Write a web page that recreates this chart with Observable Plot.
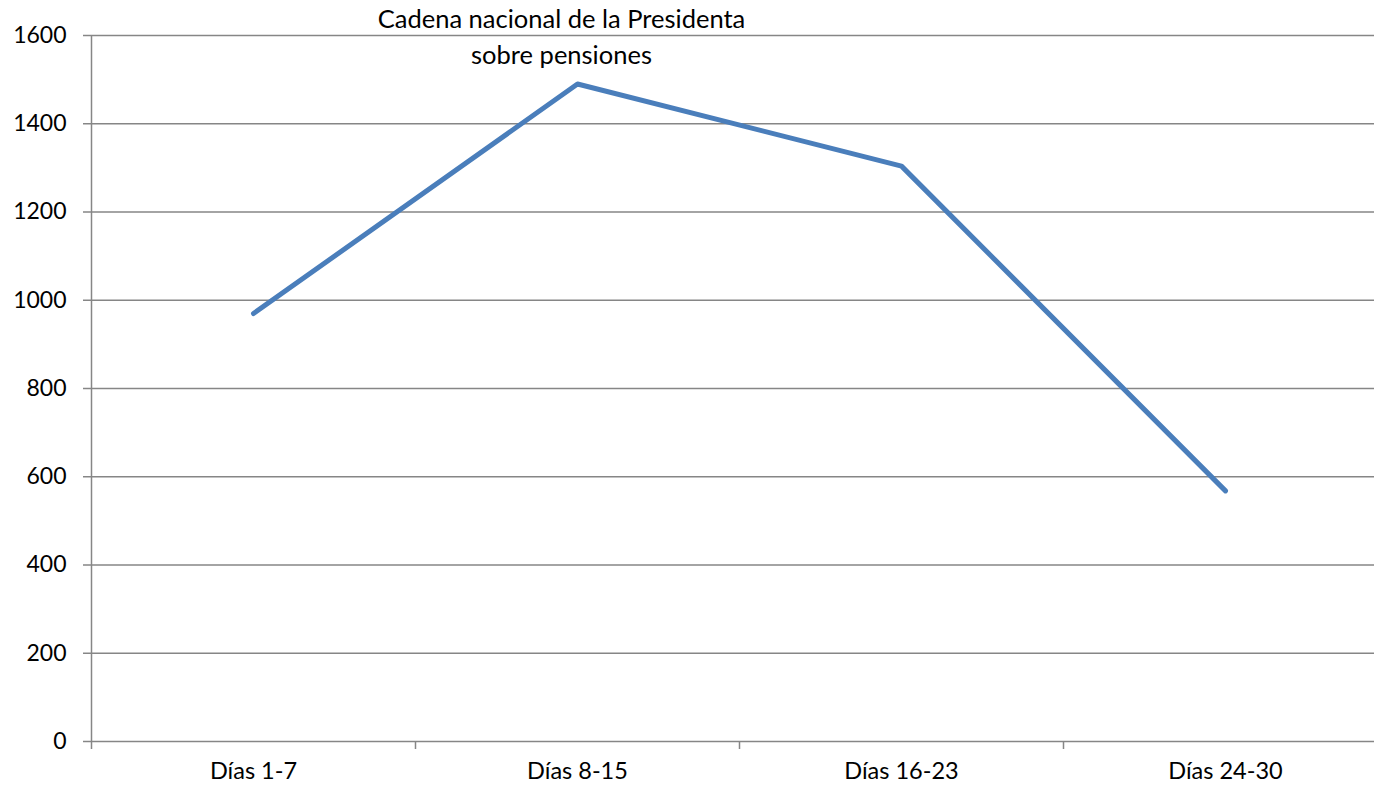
<!DOCTYPE html>
<html><head><meta charset="utf-8">
<script src="https://cdn.jsdelivr.net/npm/d3@7"></script>
<script src="https://cdn.jsdelivr.net/npm/@observablehq/plot@0.6"></script>
<style>body{margin:0;background:#fff}</style>
</head><body><div id="chart"></div>
<script>
const categories = ["Días 1-7", "Días 8-15", "Días 16-23", "Días 24-30"];
const values = [970, 1490, 1304, 568];
const yTicks = [0, 200, 400, 600, 800, 1000, 1200, 1400, 1600];
const annotationText = "Cadena nacional de la Presidenta\nsobre pensiones";
const annotationCategory = "Días 8-15";
const annotationValue = 1600;

const data = categories.map((c, i) => ({category: c, pos: i + 0.5, value: values[i]}));
const boundaries = categories.map((c, i) => i);
const gridColor = "#868686";

const chart = Plot.plot({
  width: 1374, height: 789,
  marginLeft: 91, marginRight: 0, marginTop: 35, marginBottom: 48,
  style: {fontFamily: "Lato, 'Open Sans', sans-serif", fontSize: "23px", background: "#fff", color: "#000"},
  x: {domain: [0, categories.length], range: [91, 1387], axis: null},
  y: {domain: [0, 1600], axis: null},
  marks: [
    Plot.ruleY(yTicks, {stroke: gridColor, strokeWidth: 1.5}),
    Plot.ruleX([0], {stroke: gridColor, strokeWidth: 1.5}),
    Plot.axisY(yTicks, {tickSize: 8, tickPadding: 17, stroke: gridColor, strokeWidth: 1.5, strokeOpacity: 1, fontSize: 23, tickFormat: d => String(d), label: null}),
    Plot.axisX(boundaries, {tickSize: 8, stroke: gridColor, strokeWidth: 1.5, strokeOpacity: 1, tickFormat: () => "", label: null}),
    Plot.axisX(data.map(d => d.pos), {tickSize: 0, tickPadding: 21, fontSize: 23.5, tickFormat: p => categories[Math.floor(p)], label: null}),
    Plot.line(data, {x: "pos", y: "value", stroke: "#4a7ebb", strokeWidth: 5, strokeLinecap: "round", strokeLinejoin: "round"}),
    Plot.text([{category: annotationCategory, value: annotationValue, text: annotationText}], {
      x: d => categories.indexOf(d.category) + 0.5, y: "value", text: "text",
      dx: -16, dy: -1, lineHeight: 1.4, fontSize: 25.5, fill: "#000", textAnchor: "middle", lineAnchor: "middle"
    })
  ]
});
document.getElementById("chart").appendChild(chart);
</script>
</body></html>
